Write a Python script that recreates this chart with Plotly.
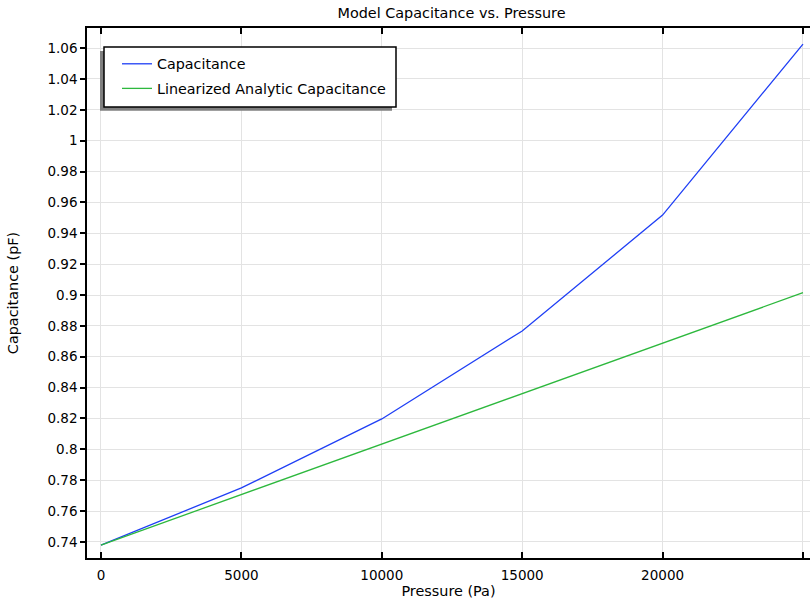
import plotly.graph_objects as go

pressure = [0, 5000, 10000, 15000, 20000, 25000]
capacitance = [0.738, 0.775, 0.8197, 0.8767, 0.9518, 1.0626]
linear_capacitance = [0.738, 0.7707, 0.8034, 0.8361, 0.8688, 0.9015]

x_ticks = [0, 5000, 10000, 15000, 20000, 25000]
x_ticklabels = ["0", "5000", "10000", "15000", "20000", ""]
y_ticks = [0.74, 0.76, 0.78, 0.80, 0.82, 0.84, 0.86, 0.88, 0.90, 0.92, 0.94, 0.96, 0.98, 1.00, 1.02, 1.04, 1.06]
y_ticklabels = ["0.74", "0.76", "0.78", "0.8", "0.82", "0.84", "0.86", "0.88", "0.9", "0.92",
                "0.94", "0.96", "0.98", "1", "1.02", "1.04", "1.06"]

FONT = "DejaVu Sans"

# layout expressed in page pixels (body margin removed by post_script)
PL, PR, PT, PB = 87, 810, 28, 558
W, H = 810, 600
L, T = PL, PT
R = W - PR
B = H - PB
pw, ph = W - L - R, H - T - B

def px(xp):
    return (xp - L) / pw

def py(yp):
    return (H - B - yp) / ph

fig = go.Figure()
fig.add_trace(go.Scatter(x=pressure, y=capacitance, mode="lines", name="Capacitance",
                         legendgroup="a", line=dict(color="#1f3ff5", width=1.3)))
fig.add_trace(go.Scatter(x=pressure, y=linear_capacitance, mode="lines",
                         name="Linearized Analytic Capacitance", legendgroup="b",
                         line=dict(color="#2db83d", width=1.3)))

fig.update_layout(
    width=W, height=H,
    margin=dict(l=L, r=R, t=T, b=B, autoexpand=False),
    paper_bgcolor="white", plot_bgcolor="white",
    font=dict(family=FONT, size=13.5, color="black"),
    title=dict(text="Model Capacitance vs. Pressure", x=451.5 / W, xanchor="center",
               y=1 - 13 / H, yanchor="middle", font=dict(size=14.4)),
    showlegend=True,
    legend=dict(x=px(117), y=py(48), xanchor="left", yanchor="top",
                bgcolor="rgba(0,0,0,0)", borderwidth=0, font=dict(size=14.3),
                traceorder="grouped", tracegroupgap=3, itemwidth=30),
    shapes=[
        dict(type="rect", xref="paper", yref="paper", x0=px(100), x1=px(392), y0=py(110.7), y1=py(51),
             fillcolor="#808080", line=dict(width=0), layer="above"),
        dict(type="rect", xref="paper", yref="paper", x0=px(104), x1=px(396), y0=py(107), y1=py(47),
             fillcolor="white", line=dict(color="black", width=1.5), layer="above"),
    ],
)

fig.update_xaxes(
    range=[-498, 25250], tickvals=x_ticks, ticktext=x_ticklabels,
    showgrid=True, gridcolor="#e3e3e3", gridwidth=1, zeroline=False,
    showline=True, linecolor="black", linewidth=1.5, mirror="ticks",
    ticks="inside", ticklen=6, tickcolor="black", tickwidth=1.5,
    ticklabelstandoff=4,
    title=dict(text="Pressure (Pa)", standoff=4, font=dict(size=14.4)),
    tickfont=dict(size=13.5), automargin=False,
)
fig.update_yaxes(
    range=[0.7296, 1.073], tickvals=y_ticks, ticktext=y_ticklabels,
    showgrid=True, gridcolor="#e3e3e3", gridwidth=1, zeroline=False,
    showline=True, linecolor="black", linewidth=1.5, mirror=False,
    ticks="outside", ticklen=5, tickcolor="black", tickwidth=1.5,
    title=dict(text="Capacitance (pF)", standoff=25, font=dict(size=14.4)),
    tickfont=dict(size=13.5), automargin=False,
)

fig.write_html("out.html", config={"displayModeBar": False},
               post_script="document.body.style.margin='0';document.body.style.overflow='hidden';")
